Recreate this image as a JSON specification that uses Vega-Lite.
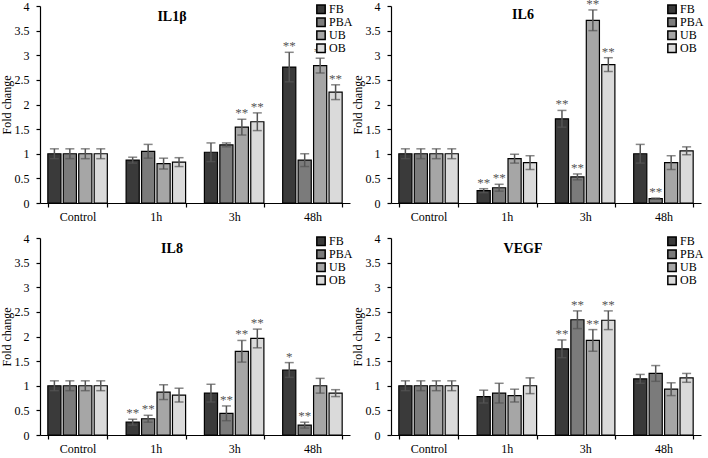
{
  "$schema": "https://vega.github.io/schema/vega-lite/v6.json",
  "padding": {"left": 0, "top": -3, "right": 0, "bottom": 0},
  "background": "white",
  "datasets": {
    "d": [
      {"panel":"IL1β","time":"Control","group":"FB","value":1.0,"lo":0.9,"hi":1.1,"sig":""},
      {"panel":"IL1β","time":"Control","group":"PBA","value":1.0,"lo":0.9,"hi":1.1,"sig":""},
      {"panel":"IL1β","time":"Control","group":"UB","value":1.0,"lo":0.9,"hi":1.1,"sig":""},
      {"panel":"IL1β","time":"Control","group":"OB","value":1.0,"lo":0.9,"hi":1.1,"sig":""},
      {"panel":"IL1β","time":"1h","group":"FB","value":0.87,"lo":0.81,"hi":0.93,"sig":""},
      {"panel":"IL1β","time":"1h","group":"PBA","value":1.05,"lo":0.91,"hi":1.19,"sig":""},
      {"panel":"IL1β","time":"1h","group":"UB","value":0.80,"lo":0.69,"hi":0.91,"sig":""},
      {"panel":"IL1β","time":"1h","group":"OB","value":0.83,"lo":0.74,"hi":0.92,"sig":""},
      {"panel":"IL1β","time":"3h","group":"FB","value":1.03,"lo":0.84,"hi":1.22,"sig":""},
      {"panel":"IL1β","time":"3h","group":"PBA","value":1.18,"lo":1.14,"hi":1.22,"sig":""},
      {"panel":"IL1β","time":"3h","group":"UB","value":1.54,"lo":1.38,"hi":1.70,"sig":"**"},
      {"panel":"IL1β","time":"3h","group":"OB","value":1.65,"lo":1.47,"hi":1.83,"sig":"**"},
      {"panel":"IL1β","time":"48h","group":"FB","value":2.76,"lo":2.46,"hi":3.06,"sig":"**"},
      {"panel":"IL1β","time":"48h","group":"PBA","value":0.87,"lo":0.74,"hi":1.0,"sig":""},
      {"panel":"IL1β","time":"48h","group":"UB","value":2.79,"lo":2.64,"hi":2.94,"sig":"**"},
      {"panel":"IL1β","time":"48h","group":"OB","value":2.25,"lo":2.10,"hi":2.40,"sig":"**"},
      {"panel":"IL6","time":"Control","group":"FB","value":1.0,"lo":0.9,"hi":1.1,"sig":""},
      {"panel":"IL6","time":"Control","group":"PBA","value":1.0,"lo":0.9,"hi":1.1,"sig":""},
      {"panel":"IL6","time":"Control","group":"UB","value":1.0,"lo":0.9,"hi":1.1,"sig":""},
      {"panel":"IL6","time":"Control","group":"OB","value":1.0,"lo":0.9,"hi":1.1,"sig":""},
      {"panel":"IL6","time":"1h","group":"FB","value":0.25,"lo":0.21,"hi":0.29,"sig":"**"},
      {"panel":"IL6","time":"1h","group":"PBA","value":0.31,"lo":0.24,"hi":0.38,"sig":"**"},
      {"panel":"IL6","time":"1h","group":"UB","value":0.90,"lo":0.81,"hi":0.99,"sig":""},
      {"panel":"IL6","time":"1h","group":"OB","value":0.82,"lo":0.68,"hi":0.96,"sig":""},
      {"panel":"IL6","time":"3h","group":"FB","value":1.71,"lo":1.54,"hi":1.88,"sig":"**"},
      {"panel":"IL6","time":"3h","group":"PBA","value":0.53,"lo":0.47,"hi":0.59,"sig":"**"},
      {"panel":"IL6","time":"3h","group":"UB","value":3.71,"lo":3.50,"hi":3.92,"sig":"**"},
      {"panel":"IL6","time":"3h","group":"OB","value":2.81,"lo":2.67,"hi":2.95,"sig":"**"},
      {"panel":"IL6","time":"48h","group":"FB","value":1.0,"lo":0.81,"hi":1.19,"sig":""},
      {"panel":"IL6","time":"48h","group":"PBA","value":0.09,"lo":0.08,"hi":0.10,"sig":"**"},
      {"panel":"IL6","time":"48h","group":"UB","value":0.82,"lo":0.68,"hi":0.96,"sig":""},
      {"panel":"IL6","time":"48h","group":"OB","value":1.06,"lo":0.98,"hi":1.14,"sig":""},
      {"panel":"IL8","time":"Control","group":"FB","value":1.0,"lo":0.9,"hi":1.1,"sig":""},
      {"panel":"IL8","time":"Control","group":"PBA","value":1.0,"lo":0.9,"hi":1.1,"sig":""},
      {"panel":"IL8","time":"Control","group":"UB","value":1.0,"lo":0.9,"hi":1.1,"sig":""},
      {"panel":"IL8","time":"Control","group":"OB","value":1.0,"lo":0.9,"hi":1.1,"sig":""},
      {"panel":"IL8","time":"1h","group":"FB","value":0.26,"lo":0.20,"hi":0.32,"sig":"**"},
      {"panel":"IL8","time":"1h","group":"PBA","value":0.33,"lo":0.26,"hi":0.40,"sig":"**"},
      {"panel":"IL8","time":"1h","group":"UB","value":0.87,"lo":0.72,"hi":1.02,"sig":""},
      {"panel":"IL8","time":"1h","group":"OB","value":0.81,"lo":0.67,"hi":0.95,"sig":""},
      {"panel":"IL8","time":"3h","group":"FB","value":0.85,"lo":0.67,"hi":1.03,"sig":""},
      {"panel":"IL8","time":"3h","group":"PBA","value":0.44,"lo":0.29,"hi":0.59,"sig":"**"},
      {"panel":"IL8","time":"3h","group":"UB","value":1.70,"lo":1.48,"hi":1.92,"sig":"**"},
      {"panel":"IL8","time":"3h","group":"OB","value":1.96,"lo":1.77,"hi":2.15,"sig":"**"},
      {"panel":"IL8","time":"48h","group":"FB","value":1.32,"lo":1.17,"hi":1.47,"sig":"*"},
      {"panel":"IL8","time":"48h","group":"PBA","value":0.20,"lo":0.14,"hi":0.26,"sig":"**"},
      {"panel":"IL8","time":"48h","group":"UB","value":1.0,"lo":0.85,"hi":1.15,"sig":""},
      {"panel":"IL8","time":"48h","group":"OB","value":0.85,"lo":0.78,"hi":0.92,"sig":""},
      {"panel":"VEGF","time":"Control","group":"FB","value":1.0,"lo":0.9,"hi":1.1,"sig":""},
      {"panel":"VEGF","time":"Control","group":"PBA","value":1.0,"lo":0.9,"hi":1.1,"sig":""},
      {"panel":"VEGF","time":"Control","group":"UB","value":1.0,"lo":0.9,"hi":1.1,"sig":""},
      {"panel":"VEGF","time":"Control","group":"OB","value":1.0,"lo":0.9,"hi":1.1,"sig":""},
      {"panel":"VEGF","time":"1h","group":"FB","value":0.78,"lo":0.65,"hi":0.91,"sig":""},
      {"panel":"VEGF","time":"1h","group":"PBA","value":0.85,"lo":0.65,"hi":1.05,"sig":""},
      {"panel":"VEGF","time":"1h","group":"UB","value":0.80,"lo":0.67,"hi":0.93,"sig":""},
      {"panel":"VEGF","time":"1h","group":"OB","value":1.0,"lo":0.84,"hi":1.16,"sig":""},
      {"panel":"VEGF","time":"3h","group":"FB","value":1.75,"lo":1.57,"hi":1.93,"sig":"**"},
      {"panel":"VEGF","time":"3h","group":"PBA","value":2.34,"lo":2.16,"hi":2.52,"sig":"**"},
      {"panel":"VEGF","time":"3h","group":"UB","value":1.92,"lo":1.70,"hi":2.14,"sig":"**"},
      {"panel":"VEGF","time":"3h","group":"OB","value":2.33,"lo":2.14,"hi":2.52,"sig":"**"},
      {"panel":"VEGF","time":"48h","group":"FB","value":1.14,"lo":1.05,"hi":1.23,"sig":""},
      {"panel":"VEGF","time":"48h","group":"PBA","value":1.25,"lo":1.09,"hi":1.41,"sig":""},
      {"panel":"VEGF","time":"48h","group":"UB","value":0.93,"lo":0.80,"hi":1.06,"sig":""},
      {"panel":"VEGF","time":"48h","group":"OB","value":1.16,"lo":1.07,"hi":1.25,"sig":""}
    ]
  },
  "columns": 2,
  "spacing": {"row": 10, "column": -2},
  "resolve": {"legend": {"color": "independent"}},
  "concat": [
    {
      "width": 310, "height": 197,
      "title": {"text": "IL1β"},
      "data": {"name": "d"},
      "transform": [{"filter": "datum.panel === 'IL1β'"}],
      "encoding": {
        "x": {"field": "time", "type": "nominal", "sort": ["Control","1h","3h","48h"], "scale": {"paddingInner": 0.24, "paddingOuter": 0.1}, "axis": {"title": null}},
        "xOffset": {"field": "group", "type": "nominal", "sort": ["FB","PBA","UB","OB"], "scale": {"paddingInner": 0.15}}
      },
      "layer": [
        {"mark": {"type": "bar", "stroke": "black", "strokeWidth": 1.2}, "encoding": {"y": {"field": "value", "type": "quantitative", "scale": {"domain": [0, 4]}, "title": "Fold change", "axis": {"values": [0, 0.5, 1, 1.5, 2, 2.5, 3, 3.5, 4], "tickCount": 20, "labelOverlap": false, "format": ".1~f"}}, "color": {"field": "group", "type": "nominal", "sort": ["FB","PBA","UB","OB"], "scale": {"domain": ["FB","PBA","UB","OB"], "range": ["#3a3a3a","#7b7b7b","#a6a6a6","#dadada"]}, "legend": {"title": null, "orient": "none", "legendX": 275, "legendY": -3}}}},
        {"mark": {"type": "rule", "color": "#555555", "strokeWidth": 1.5}, "encoding": {"y": {"field": "lo", "type": "quantitative", "title": "Fold change"}, "y2": {"field": "hi"}}},
        {"mark": {"type": "tick", "color": "#555555", "size": 9, "thickness": 1.5}, "encoding": {"y": {"field": "hi", "type": "quantitative", "title": "Fold change"}}},
        {"mark": {"type": "tick", "color": "#555555", "size": 9, "thickness": 1.5}, "encoding": {"y": {"field": "lo", "type": "quantitative", "title": "Fold change"}}},
        {"mark": {"type": "text", "fill": "#555555", "fontSize": 13, "baseline": "alphabetic", "dy": -2}, "encoding": {"y": {"field": "hi", "type": "quantitative", "title": "Fold change"}, "text": {"field": "sig"}}}
      ]
    },
    {
      "width": 310, "height": 197,
      "title": {"text": "IL6"},
      "data": {"name": "d"},
      "transform": [{"filter": "datum.panel === 'IL6'"}],
      "encoding": {
        "x": {"field": "time", "type": "nominal", "sort": ["Control","1h","3h","48h"], "scale": {"paddingInner": 0.24, "paddingOuter": 0.1}, "axis": {"title": null}},
        "xOffset": {"field": "group", "type": "nominal", "sort": ["FB","PBA","UB","OB"], "scale": {"paddingInner": 0.15}}
      },
      "layer": [
        {"mark": {"type": "bar", "stroke": "black", "strokeWidth": 1.2}, "encoding": {"y": {"field": "value", "type": "quantitative", "scale": {"domain": [0, 4]}, "title": "Fold change", "axis": {"values": [0, 0.5, 1, 1.5, 2, 2.5, 3, 3.5, 4], "tickCount": 20, "labelOverlap": false, "format": ".1~f"}}, "color": {"field": "group", "type": "nominal", "sort": ["FB","PBA","UB","OB"], "scale": {"domain": ["FB","PBA","UB","OB"], "range": ["#3a3a3a","#7b7b7b","#a6a6a6","#dadada"]}, "legend": {"title": null, "orient": "none", "legendX": 275, "legendY": -3}}}},
        {"mark": {"type": "rule", "color": "#555555", "strokeWidth": 1.5}, "encoding": {"y": {"field": "lo", "type": "quantitative", "title": "Fold change"}, "y2": {"field": "hi"}}},
        {"mark": {"type": "tick", "color": "#555555", "size": 9, "thickness": 1.5}, "encoding": {"y": {"field": "hi", "type": "quantitative", "title": "Fold change"}}},
        {"mark": {"type": "tick", "color": "#555555", "size": 9, "thickness": 1.5}, "encoding": {"y": {"field": "lo", "type": "quantitative", "title": "Fold change"}}},
        {"mark": {"type": "text", "fill": "#555555", "fontSize": 13, "baseline": "alphabetic", "dy": -2}, "encoding": {"y": {"field": "hi", "type": "quantitative", "title": "Fold change"}, "text": {"field": "sig"}}}
      ]
    },
    {
      "width": 310, "height": 197,
      "title": {"text": "IL8"},
      "data": {"name": "d"},
      "transform": [{"filter": "datum.panel === 'IL8'"}],
      "encoding": {
        "x": {"field": "time", "type": "nominal", "sort": ["Control","1h","3h","48h"], "scale": {"paddingInner": 0.24, "paddingOuter": 0.1}, "axis": {"title": null}},
        "xOffset": {"field": "group", "type": "nominal", "sort": ["FB","PBA","UB","OB"], "scale": {"paddingInner": 0.15}}
      },
      "layer": [
        {"mark": {"type": "bar", "stroke": "black", "strokeWidth": 1.2}, "encoding": {"y": {"field": "value", "type": "quantitative", "scale": {"domain": [0, 4]}, "title": "Fold change", "axis": {"values": [0, 0.5, 1, 1.5, 2, 2.5, 3, 3.5, 4], "tickCount": 20, "labelOverlap": false, "format": ".1~f"}}, "color": {"field": "group", "type": "nominal", "sort": ["FB","PBA","UB","OB"], "scale": {"domain": ["FB","PBA","UB","OB"], "range": ["#3a3a3a","#7b7b7b","#a6a6a6","#dadada"]}, "legend": {"title": null, "orient": "none", "legendX": 275, "legendY": -3}}}},
        {"mark": {"type": "rule", "color": "#555555", "strokeWidth": 1.5}, "encoding": {"y": {"field": "lo", "type": "quantitative", "title": "Fold change"}, "y2": {"field": "hi"}}},
        {"mark": {"type": "tick", "color": "#555555", "size": 9, "thickness": 1.5}, "encoding": {"y": {"field": "hi", "type": "quantitative", "title": "Fold change"}}},
        {"mark": {"type": "tick", "color": "#555555", "size": 9, "thickness": 1.5}, "encoding": {"y": {"field": "lo", "type": "quantitative", "title": "Fold change"}}},
        {"mark": {"type": "text", "fill": "#555555", "fontSize": 13, "baseline": "alphabetic", "dy": -2}, "encoding": {"y": {"field": "hi", "type": "quantitative", "title": "Fold change"}, "text": {"field": "sig"}}}
      ]
    },
    {
      "width": 310, "height": 197,
      "title": {"text": "VEGF"},
      "data": {"name": "d"},
      "transform": [{"filter": "datum.panel === 'VEGF'"}],
      "encoding": {
        "x": {"field": "time", "type": "nominal", "sort": ["Control","1h","3h","48h"], "scale": {"paddingInner": 0.24, "paddingOuter": 0.1}, "axis": {"title": null}},
        "xOffset": {"field": "group", "type": "nominal", "sort": ["FB","PBA","UB","OB"], "scale": {"paddingInner": 0.15}}
      },
      "layer": [
        {"mark": {"type": "bar", "stroke": "black", "strokeWidth": 1.2}, "encoding": {"y": {"field": "value", "type": "quantitative", "scale": {"domain": [0, 4]}, "title": "Fold change", "axis": {"values": [0, 0.5, 1, 1.5, 2, 2.5, 3, 3.5, 4], "tickCount": 20, "labelOverlap": false, "format": ".1~f"}}, "color": {"field": "group", "type": "nominal", "sort": ["FB","PBA","UB","OB"], "scale": {"domain": ["FB","PBA","UB","OB"], "range": ["#3a3a3a","#7b7b7b","#a6a6a6","#dadada"]}, "legend": {"title": null, "orient": "none", "legendX": 275, "legendY": -3}}}},
        {"mark": {"type": "rule", "color": "#555555", "strokeWidth": 1.5}, "encoding": {"y": {"field": "lo", "type": "quantitative", "title": "Fold change"}, "y2": {"field": "hi"}}},
        {"mark": {"type": "tick", "color": "#555555", "size": 9, "thickness": 1.5}, "encoding": {"y": {"field": "hi", "type": "quantitative", "title": "Fold change"}}},
        {"mark": {"type": "tick", "color": "#555555", "size": 9, "thickness": 1.5}, "encoding": {"y": {"field": "lo", "type": "quantitative", "title": "Fold change"}}},
        {"mark": {"type": "text", "fill": "#555555", "fontSize": 13, "baseline": "alphabetic", "dy": -2}, "encoding": {"y": {"field": "hi", "type": "quantitative", "title": "Fold change"}, "text": {"field": "sig"}}}
      ]
    }
  ],
  "config": {
    "font": "Liberation Serif",
    "view": {"stroke": null},
    "title": {"font": "Liberation Serif", "fontSize": 14, "fontWeight": "bold", "color": "black", "anchor": "middle", "frame": "group", "offset": -24, "dx": -23},
    "axis": {"labelFont": "Liberation Serif", "titleFont": "Liberation Serif", "labelColor": "black", "titleColor": "black", "domainColor": "black", "tickColor": "black", "grid": false, "labelFontSize": 12, "titleFontSize": 12, "titleFontWeight": "normal", "domainWidth": 1.2, "tickWidth": 1.2, "tickSize": 4},
    "axisX": {"labelAngle": 0, "tickBand": "extent", "labelPadding": 4},
    "axisY": {"labelPadding": 7, "titlePadding": 1},
    "legend": {"labelFont": "Liberation Serif", "labelFontSize": 12, "labelColor": "black", "symbolType": "square", "symbolSize": 70, "symbolStrokeColor": "black", "symbolStrokeWidth": 1.5, "rowPadding": 0, "clipHeight": 12.5, "labelOffset": 2, "padding": 0}
  }
}
